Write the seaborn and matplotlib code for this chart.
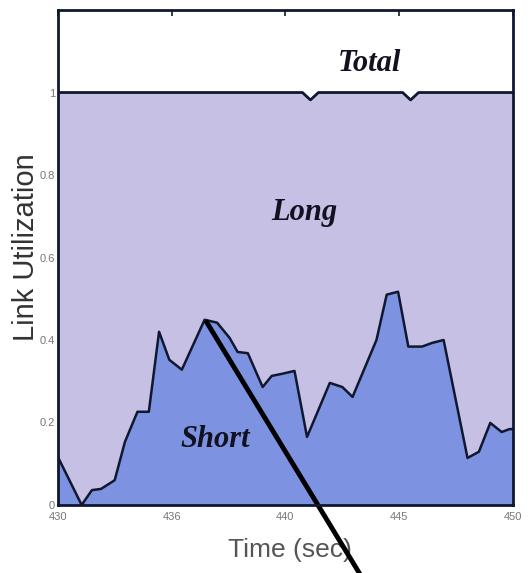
import matplotlib
matplotlib.use("Agg")
import matplotlib.pyplot as plt
import seaborn as sns
import numpy as np
import pandas as pd

# Short-flow utilization (stacked bottom layer)
short_time = [430.0, 431.05, 431.5, 431.9, 432.5, 432.95, 433.5, 434.0, 434.45, 434.9,
              435.45, 436.45, 437.0, 437.55, 437.9, 438.35, 439.0, 439.4, 439.85, 440.4,
              440.95, 441.95, 442.5, 442.95, 444.0, 444.45, 444.95, 445.4, 446.0, 446.45,
              446.95, 448.0, 448.5, 449.0, 449.5, 449.85, 450.0]
short_util = [0.117, 0.0, 0.036, 0.039, 0.06, 0.153, 0.226, 0.226, 0.42, 0.352,
              0.328, 0.449, 0.442, 0.405, 0.371, 0.368, 0.286, 0.313, 0.318, 0.325,
              0.165, 0.296, 0.286, 0.262, 0.40, 0.51, 0.517, 0.384, 0.384, 0.393,
              0.40, 0.114, 0.129, 0.199, 0.177, 0.184, 0.184]

# Total utilization (top of the long layer)
total_time = [430.0, 440.75, 441.1, 441.45, 445.15, 445.5, 445.85, 450.0]
total_util = [1.0, 1.0, 0.982, 1.0, 1.0, 0.982, 1.0, 1.0]

x_ticks = [430, 435, 440, 445, 450]
x_tick_labels = ["430", "436", "440", "445", "450"]
y_ticks = [0, 0.2, 0.4, 0.6, 0.8, 1.0]
y_tick_labels = ["0", "0.2", "0.4", "0.6", "0.8", "1"]

region_labels = ["Total", "Long", "Short"]
region_pos = [(443.7, 1.07), (440.85, 0.71), (436.9, 0.158)]

long_color = "#c6c0e4"
short_color = "#7d92e0"
edge = "#101830"

sns.set_style("white")
fig = plt.figure(figsize=(5.30, 5.73), dpi=100)
ax = fig.add_axes([0.109, 0.1187, 0.859, 0.8638])

ax.fill_between(total_time, 0, total_util, color=long_color, linewidth=0)
ax.fill_between(short_time, 0, short_util, color=short_color, linewidth=0)

df_short = pd.DataFrame({"t": short_time, "u": short_util})
df_total = pd.DataFrame({"t": total_time, "u": total_util})
sns.lineplot(data=df_total, x="t", y="u", ax=ax, color=edge, linewidth=2.0, sort=False)
sns.lineplot(data=df_short, x="t", y="u", ax=ax, color=edge, linewidth=1.8, sort=False)

ax.set_xlim(430, 450)
ax.set_ylim(0, 1.2)
ax.set_xticks(x_ticks)
ax.set_xticklabels(x_tick_labels)
ax.set_yticks(y_ticks)
ax.set_yticklabels(y_tick_labels)
ax.tick_params(axis="both", labelsize=8, labelcolor="#777777", direction="in",
               length=4, color=edge, width=1.2, pad=2)
ax.tick_params(axis="x", top=True, bottom=False, pad=5)
ax.tick_params(axis="y", left=False)
for t in ax.get_xticklabels() + ax.get_yticklabels():
    t.set_family("Liberation Sans")

for s in ax.spines.values():
    s.set_color(edge)
    s.set_linewidth(2.0)

ax.set_xlabel("Time (sec)", fontsize=19, color="#555555", family="Liberation Sans")
ax.xaxis.set_label_coords(0.51, -0.066)
ax.set_ylabel("Link Utilization", fontsize=21, color="#333333", family="Liberation Sans")
ax.yaxis.set_label_coords(-0.040, 0.52)

for lab, (tx, ty) in zip(region_labels, region_pos):
    ax.text(tx, ty, lab, fontsize=22, fontweight="bold", fontstyle="italic",
            family="Liberation Serif", color="#111122", ha="center", va="center")

# pointer line running off the bottom of the figure
ax.plot([436.5, 443.3], [0.447, -0.17], color="black", linewidth=3.5,
        clip_on=False, solid_capstyle="butt")

fig.savefig("out.png", dpi=100)
